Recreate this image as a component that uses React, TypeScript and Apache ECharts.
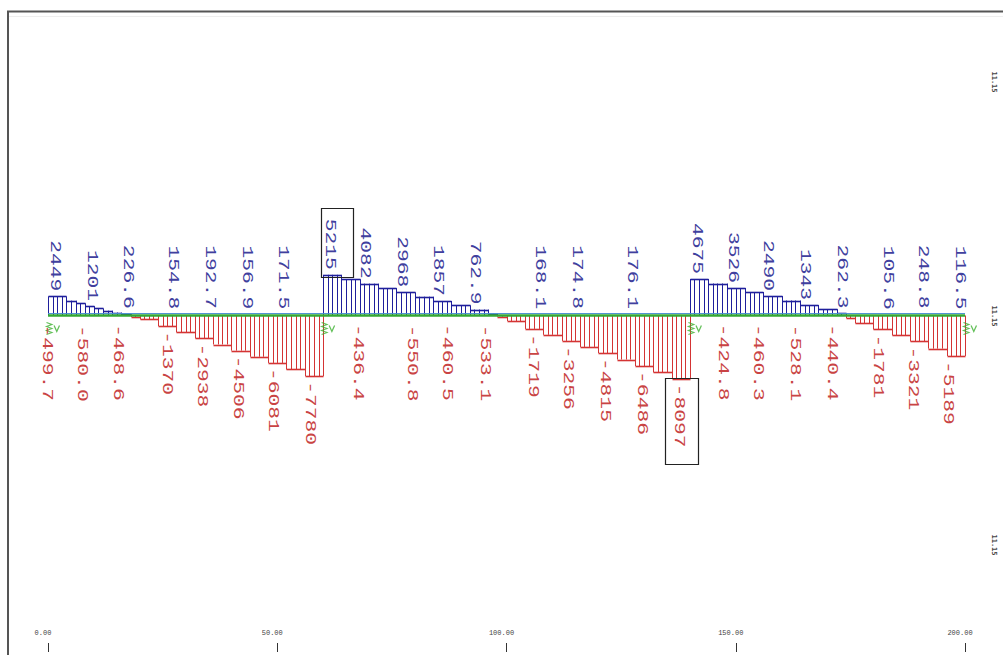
import React, { useEffect, useRef } from "react";
import * as echarts from "echarts";

// Stepped moment diagram: edges (m) and value of each step (kN·m)
const stepEdges = [
  0, 4, 6, 8, 10, 12, 14, 16, 18, 20, 24, 28, 32, 36, 40, 44, 48, 52, 56, 60,
  64, 68, 72, 76, 80, 84, 88, 92, 96, 98, 100, 104, 108, 112, 116, 120, 124, 128, 132, 136, 140,
  144, 148, 152, 156, 160, 164, 168, 172, 174, 176, 180, 184, 188, 192, 196, 200,
];
const stepValues = [
  2449, 1900, 1560, 1201, 900, 620, 380, 150, -200, -500, -1370, -2150, -2938, -3720, -4506, -5290, -6081, -6920, -7780,
  5215, 4650, 4082, 3520, 2968, 2410, 1857, 1300, 762.9, 250, -150, -700, -1719, -2480, -3256, -4030, -4815, -5650, -6486, -7290, -8097,
  4675, 4100, 3526, 3010, 2490, 1920, 1343, 800, 262.3, -350, -1000, -1781, -2550, -3321, -4250, -5189,
];

// Max envelope labels (blue)
const maxLabelX = [0, 8.1, 15.9, 25.7, 33.8, 41.9, 49.7, 60, 67.6, 75.7, 83.5, 91.6, 105.8, 113.8, 125.8, 140, 147.7, 155.5, 163.6, 171.6, 181.5, 189.3, 197.4];
const maxLabelV = [2449, 1201, 226.6, 154.8, 192.7, 156.9, 171.5, 5215, 4082, 2968, 1857, 762.9, 168.1, 174.8, 176.1, 4675, 3526, 2490, 1343, 262.3, 105.6, 248.8, 116.5];

// Min envelope labels (red)
const minLabelX = [0.4, 8.1, 15.9, 26.6, 34.2, 42.1, 49.7, 57.8, 68.3, 80.0, 87.7, 96.0, 106.4, 114.1, 122.1, 130.2, 138.1, 147.7, 155.5, 163.6, 171.6, 181.7, 189.3, 196.9];
const minLabelV = [-499.7, -580.0, -468.6, -1370, -2938, -4506, -6081, -7780, -436.4, -550.8, -460.5, -533.1, -1719, -3256, -4815, -6486, -8097, -424.8, -460.3, -528.1, -440.4, -1781, -3321, -5189];

// Supports
const supportX = [0, 60, 140, 200];

// Axis ticks
const xTicks = [0, 50, 100, 150, 200];

const BLUE = "#1f1f9c";
const RED = "#d43434";
const BLUE_TXT = "#40409e";
const RED_TXT = "#c94444";
const GREEN = "#34a834";

const FONT_SIZE = 15;
const STRETCH = 1.42;
const ADV = 0.6 * FONT_SIZE * STRETCH;

function fmt(v: number) {
  return Math.abs(v) >= 1000 ? v.toFixed(0) : v.toFixed(1);
}

export default function App() {
  const ref = useRef<HTMLDivElement>(null);

  useEffect(() => {
    if (!ref.current) return;
    const chart = echarts.init(ref.current, undefined, { renderer: "svg" });

    const steps = stepValues.map((v, i) => [stepEdges[i], stepEdges[i + 1], v]);
    const maxIdx = maxLabelV.indexOf(Math.max(...maxLabelV));
    const minIdx = minLabelV.indexOf(Math.min(...minLabelV));
    const maxLabels = maxLabelX.map((x, i) => [x, maxLabelV[i], i === maxIdx ? 1 : 0]);
    const minLabels = minLabelX.map((x, i) => [x, minLabelV[i], i === minIdx ? 1 : 0]);

    const crisp = (p: number) => Math.round(p) + 0.5;

    const stepRender = (params: any, api: any) => {
      const x0 = api.value(0);
      const x1 = api.value(1);
      const v = api.value(2);
      const base = api.coord([x0, 0])[1];
      const top = api.coord([x0, v])[1];
      const color = v >= 0 ? BLUE : RED;
      const children: any[] = [];
      for (let u = x0; u <= x1 + 1e-6; u += 1) {
        const px = crisp(api.coord([u, 0])[0]);
        children.push({
          type: "line",
          shape: { x1: px, y1: base, x2: px, y2: top },
          style: { stroke: color, lineWidth: 1 },
        });
      }
      const pa = api.coord([x0, 0])[0];
      const pb = api.coord([x1, 0])[0];
      children.push({
        type: "line",
        shape: { x1: crisp(pa), y1: crisp(top), x2: crisp(pb), y2: crisp(top) },
        style: { stroke: color, lineWidth: 1.6 },
      });
      return { type: "group", children };
    };

    const labelRender = (isMax: boolean) => (params: any, api: any) => {
      const x = api.value(0);
      const v = api.value(1);
      const boxed = api.value(2) === 1;
      const p = api.coord([x, v]);
      const text = fmt(v);
      const L = text.length * ADV;
      const children: any[] = [];
      if (isMax) {
        const ax = p[0] + 7;
        const e = p[1] - 5;
        children.push({
          type: "text",
          x: ax,
          y: e,
          rotation: -Math.PI / 2,
          scaleX: STRETCH,
          style: {
            text,
            fill: BLUE_TXT,
            font: `${FONT_SIZE}px "Liberation Mono", monospace`,
            align: "right",
            verticalAlign: "middle",
          },
        });
        if (boxed) {
          const s = e - L;
          children.push({
            type: "rect",
            shape: { x: crisp(p[0] - 2), y: crisp(s - 11), width: 32, height: Math.round(L + 18) },
            style: { fill: "none", stroke: "#222", lineWidth: 1.2 },
          });
        }
      } else {
        const ax = p[0] - 3;
        const s = p[1] + 5;
        children.push({
          type: "text",
          x: ax,
          y: s,
          rotation: -Math.PI / 2,
          scaleX: STRETCH,
          style: {
            text,
            fill: RED_TXT,
            font: `${FONT_SIZE}px "Liberation Mono", monospace`,
            align: "left",
            verticalAlign: "middle",
          },
        });
        if (boxed) {
          children.push({
            type: "rect",
            shape: { x: crisp(p[0] - 16), y: crisp(p[1] - 1), width: 33, height: Math.round(L + 22) },
            style: { fill: "none", stroke: "#222", lineWidth: 1.2 },
          });
        }
      }
      return { type: "group", children };
    };

    chart.setOption({
      animation: false,
      backgroundColor: "#ffffff",
      grid: { left: 48, right: 38, top: 12, bottom: 3 },
      xAxis: {
        type: "value",
        min: 0,
        max: 200,
        interval: 50,
        axisLine: { show: true, onZero: false, lineStyle: { color: "rgba(0,0,0,0)" } },
        splitLine: { show: false },
        axisTick: { show: true, inside: true, length: 9, lineStyle: { color: "#333", width: 1 } },
        axisLabel: {
          inside: true,
          margin: 16,
          fontSize: 7,
          color: "#444",
          fontFamily: "Liberation Mono, monospace",
          formatter: (v: number) => (xTicks.includes(v) ? v.toFixed(2) : ""),
          padding: [0, 10, 0, 0],
        },
      },
      yAxis: {
        type: "value",
        min: -43140,
        max: 38909,
        show: false,
        splitLine: { show: false },
      },
      graphic: [
        { type: "line", shape: { x1: 7, y1: 11.5, x2: 1003, y2: 11.5 }, style: { stroke: "#555", lineWidth: 2 }, z: 10 },
        { type: "line", shape: { x1: 8, y1: 11, x2: 8, y2: 655 }, style: { stroke: "#555", lineWidth: 2 }, z: 10 },
        { type: "line", shape: { x1: 9, y1: 16.5, x2: 1003, y2: 16.5 }, style: { stroke: "#eee", lineWidth: 1 }, z: 10 },
        ...[82, 316, 545].map((y) => ({
          type: "text",
          x: 994,
          y,
          rotation: -Math.PI / 2,
          style: { text: "11.15", fill: "#444", font: "bold 7px monospace", align: "center", verticalAlign: "middle" },
          z: 10,
        })),
      ],
      series: [
        {
          type: "custom",
          name: "steps",
          renderItem: stepRender,
          encode: { x: [0, 1], y: 2 },
          data: steps,
          z: 2,
          silent: true,
        },
        {
          type: "line",
          name: "beamTop",
          data: [[0, 250], [200, 250]],
          symbol: "none",
          lineStyle: { color: "#4a8fd0", width: 1 },
          z: 3,
          silent: true,
        },
        {
          type: "line",
          name: "beam",
          data: [[0, 0], [200, 0]],
          symbol: "none",
          lineStyle: { color: GREEN, width: 2.5 },
          z: 3,
          silent: true,
        },
        {
          type: "scatter",
          name: "supports",
          data: supportX.map((x) => [x, 0]),
          symbol: "path://M0,0 L5,2 L0,4 L5,6 L0,8 L5,10 L0,12 M7,3 L9.5,9 L12,3",
          symbolSize: [13, 12],
          symbolOffset: [5, 13],
          itemStyle: { color: "rgba(0,0,0,0)", borderColor: "#3cb030", borderWidth: 1.2 },
          z: 4,
          silent: true,
        },
        {
          type: "custom",
          name: "max",
          renderItem: labelRender(true),
          encode: { x: 0, y: 1 },
          data: maxLabels,
          z: 5,
          silent: true,
        },
        {
          type: "custom",
          name: "min",
          renderItem: labelRender(false),
          encode: { x: 0, y: 1 },
          data: minLabels,
          z: 5,
          silent: true,
        },
      ],
    });

    return () => chart.dispose();
  }, []);

  return (
    <div
      ref={ref}
      style={{ position: "fixed", left: 0, top: 0, width: 1003, height: 655, background: "#fff" }}
    />
  );
}
